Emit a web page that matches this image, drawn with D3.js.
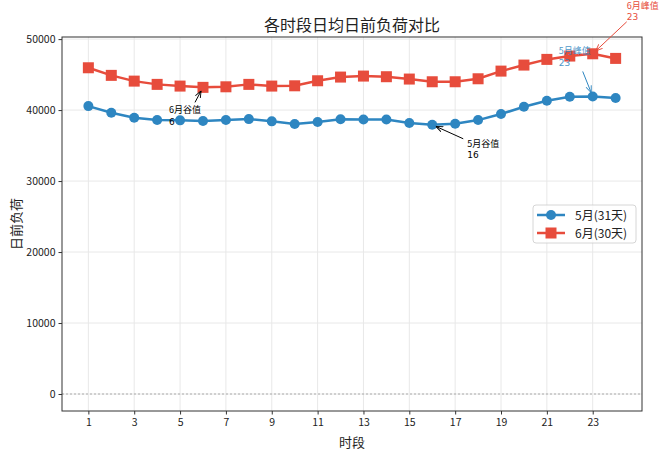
<!DOCTYPE html>
<html>
<head>
<meta charset="utf-8">
<script src="https://cdn.jsdelivr.net/npm/d3@7"></script>
<style>
  body { margin: 0; background: #fff; }
  svg { font-family: "Noto Sans CJK SC", "DejaVu Sans", sans-serif; }
</style>
</head>
<body>
<div id="chart"></div>
<script>
// data
const hours = d3.range(1, 25);
const mayLoad = [40560, 39620, 38920, 38590, 38550, 38450, 38590, 38730, 38410, 38030, 38310, 38700,
                 38680, 38680, 38170, 37930, 38070, 38590, 39440, 40470, 41320, 41880, 41920, 41690];
const juneLoad = [45960, 44890, 44080, 43620, 43380, 43200, 43280, 43620, 43380, 43420, 44130, 44650,
                  44790, 44700, 44370, 43990, 43990, 44410, 45490, 46340, 47140, 47610, 47930, 47280];
const xTicks = [1, 3, 5, 7, 9, 11, 13, 15, 17, 19, 21, 23];
const yTicks = [0, 10000, 20000, 30000, 40000, 50000];
const seriesNames = ["5月(31天)", "6月(30天)"];

const width = 662;
const height = 451;
const margin = {top: 37, right: 20, bottom: 40, left: 62};
const blue = "#2e86c1";
const red = "#e74c3c";

var svg = d3.select("#chart").append("svg")
    .attr("width", width)
    .attr("height", height);

var xScale = d3.scaleLinear().domain([-0.15, 25.15]).range([margin.left, width - margin.right]);
var yScale = d3.scaleLinear().domain([-2395, 50295]).range([height - margin.bottom, margin.top]);

// arrow heads
var defs = svg.append("defs");
[["arrBlack", "#000"], ["arrBlue", blue], ["arrRed", red]].forEach(function(a) {
    defs.append("marker")
        .attr("id", a[0])
        .attr("viewBox", "0 -5 10 10")
        .attr("refX", 10).attr("refY", 0)
        .attr("markerWidth", 7).attr("markerHeight", 7)
        .attr("markerUnits", "userSpaceOnUse")
        .attr("orient", "auto")
        .append("path")
        .attr("d", "M0,-4L10,0L0,4")
        .attr("fill", "none")
        .attr("stroke", a[1])
        .attr("stroke-width", 1.3);
});

// grid
var grid = svg.append("g");
grid.selectAll(".gx").data(xTicks).enter().append("line")
    .attr("x1", d => xScale(d)).attr("x2", d => xScale(d))
    .attr("y1", margin.top).attr("y2", height - margin.bottom)
    .attr("stroke", "#e8e8e8").attr("stroke-width", 1);
grid.selectAll(".gy").data(yTicks).enter().append("line")
    .attr("x1", margin.left).attr("x2", width - margin.right)
    .attr("y1", d => yScale(d)).attr("y2", d => yScale(d))
    .attr("stroke", "#e8e8e8").attr("stroke-width", 1);

// zero reference line
svg.append("line")
    .attr("x1", margin.left).attr("x2", width - margin.right)
    .attr("y1", yScale(0)).attr("y2", yScale(0))
    .attr("stroke", "#999").attr("stroke-width", 0.8)
    .attr("stroke-dasharray", "2,2");

// axes
var xAxis = d3.axisBottom(xScale).tickValues(xTicks).tickSize(3.5).tickPadding(4);
var yAxis = d3.axisLeft(yScale).tickValues(yTicks).tickFormat(d3.format("d")).tickSize(3.5).tickPadding(3);

var gx = svg.append("g")
    .attr("transform", "translate(0," + (height - margin.bottom) + ")")
    .call(xAxis);
var gy = svg.append("g")
    .attr("transform", "translate(" + margin.left + ",0)")
    .call(yAxis);
[gx, gy].forEach(function(g) {
    g.select(".domain").remove();
    g.selectAll("text").attr("font-size", 10.5).attr("fill", "#222")
        .attr("font-family", "Noto Sans CJK SC");
    g.selectAll("line").attr("stroke", "#333");
});

// frame
svg.append("rect")
    .attr("x", margin.left).attr("y", margin.top)
    .attr("width", width - margin.left - margin.right)
    .attr("height", height - margin.top - margin.bottom)
    .attr("fill", "none").attr("stroke", "#333").attr("stroke-width", 1);

// lines
var line = d3.line().x((d, i) => xScale(hours[i])).y(d => yScale(d));

svg.append("path").datum(mayLoad)
    .attr("d", line).attr("fill", "none")
    .attr("stroke", blue).attr("stroke-width", 2.5);
svg.selectAll(".mayPt").data(mayLoad).enter().append("circle")
    .attr("cx", (d, i) => xScale(hours[i]))
    .attr("cy", d => yScale(d))
    .attr("r", 5).attr("fill", blue);

svg.append("path").datum(juneLoad)
    .attr("d", line).attr("fill", "none")
    .attr("stroke", red).attr("stroke-width", 2.5);
svg.selectAll(".junePt").data(juneLoad).enter().append("rect")
    .attr("x", (d, i) => xScale(hours[i]) - 5.5)
    .attr("y", d => yScale(d) - 5.5)
    .attr("width", 11).attr("height", 11)
    .attr("fill", red);

// peak / valley annotations
function annotate(values, idx, label, color, marker, tx, ty, ax, ay) {
    var px = xScale(hours[idx]);
    var py = yScale(values[idx]);
    var sx = px + ax, sy = py + ay;
    var dx = px - sx, dy = py - sy;
    var len = Math.sqrt(dx * dx + dy * dy);
    var shrink = 4;
    svg.append("line")
        .attr("x1", sx).attr("y1", sy)
        .attr("x2", px - dx / len * shrink).attr("y2", py - dy / len * shrink)
        .attr("stroke", color).attr("stroke-width", 1)
        .attr("marker-end", "url(#" + marker + ")");
    var g = svg.append("g").attr("fill", color).attr("font-size", 9);
    g.append("text").attr("x", px + tx).attr("y", py + ty).text(label);
    g.append("text").attr("x", px + tx).attr("y", py + ty + 11.5)
        .attr("font-family", "DejaVu Sans").text(hours[idx]);
    return g;
}

var mayMin = d3.minIndex(mayLoad), mayMax = d3.maxIndex(mayLoad);
var juneMin = d3.minIndex(juneLoad), juneMax = d3.maxIndex(juneLoad);

annotate(juneLoad, juneMin, "6月谷值", "#000", "arrBlack", -34, 26, -8, 15);
annotate(mayLoad, mayMin, "5月谷值", "#000", "arrBlack", 35, 22, 31, 14);
annotate(mayLoad, mayMax, "5月峰值", blue, "arrBlue", -34, -42, -10, -25).attr("opacity", 0.85);
annotate(juneLoad, juneMax, "6月峰值", red, "arrRed", 34, -45, 34, -32);

// title and axis labels
svg.append("text")
    .attr("x", (margin.left + width - margin.right) / 2).attr("y", 31)
    .attr("text-anchor", "middle").attr("font-size", 16).attr("fill", "#222")
    .text("各时段日均日前负荷对比");
svg.append("text")
    .attr("x", (margin.left + width - margin.right) / 2).attr("y", 447)
    .attr("text-anchor", "middle").attr("font-size", 13).attr("fill", "#222")
    .text("时段");
svg.append("text")
    .attr("transform", "translate(21," + ((margin.top + height - margin.bottom) / 2) + ") rotate(-90)")
    .attr("text-anchor", "middle").attr("font-size", 13).attr("fill", "#222")
    .text("日前负荷");

// legend
var legend = svg.append("g").attr("transform", "translate(533,205)");
legend.append("rect")
    .attr("width", 103).attr("height", 38).attr("rx", 3)
    .attr("fill", "#fff").attr("fill-opacity", 0.8)
    .attr("stroke", "#ccc").attr("stroke-width", 0.8);
seriesNames.forEach(function(name, i) {
    var y = 10 + i * 18;
    var c = i === 0 ? blue : red;
    legend.append("line").attr("x1", 4).attr("x2", 32).attr("y1", y).attr("y2", y)
        .attr("stroke", c).attr("stroke-width", 2.5);
    if (i === 0) {
        legend.append("circle").attr("cx", 18).attr("cy", y).attr("r", 5).attr("fill", c);
    } else {
        legend.append("rect").attr("x", 12.5).attr("y", y - 5.5).attr("width", 11).attr("height", 11).attr("fill", c);
    }
    legend.append("text").attr("x", 42).attr("y", y + 4.5)
        .attr("font-size", 12).attr("fill", "#222").text(name);
});
</script>
</body>
</html>
